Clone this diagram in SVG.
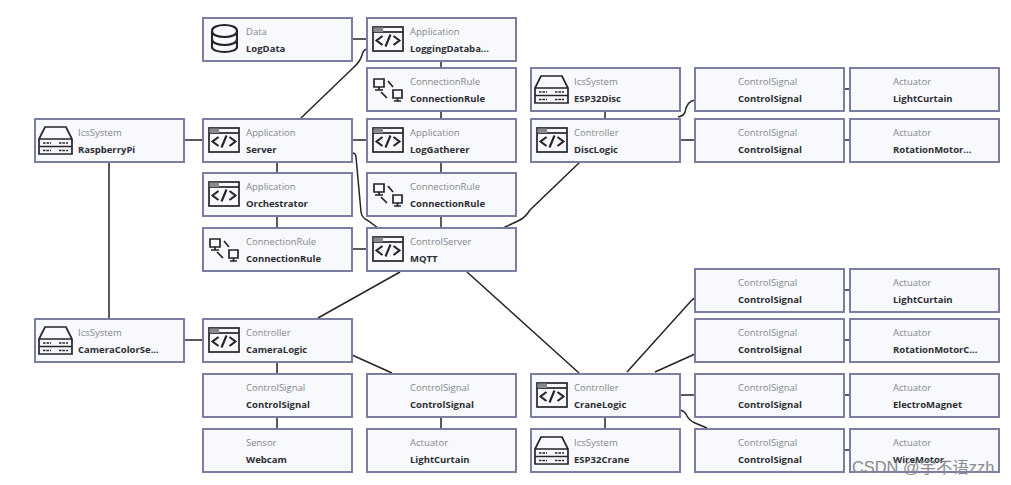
<svg xmlns="http://www.w3.org/2000/svg" width="1011" height="485" viewBox="0 0 1011 485">
<style>
text{font-family:"Open Sans","Noto Sans","Liberation Sans",sans-serif;font-size:9.5px}
.box{fill:#f8f9fc;stroke:#7b7da4;stroke-width:2}
.t{fill:#85868d}
.n{fill:#2c2d33;font-weight:700}
.ln{fill:none;stroke:#25252a;stroke-width:1.5}
.ic{fill:none;stroke:#242428;stroke-width:1.7}
.code{fill:none;stroke:#242428;stroke-width:2.1}
.wm{font-family:"Liberation Sans","Noto Sans CJK SC",sans-serif;font-size:16.4px;fill:#8a8a90}
</style>
<defs>
<g id="app"><rect class="ic" x="6" y="9" width="30" height="24"/><path class="ic" d="M6 14H36"/><path d="M6.500 9.500H16V14H6.500Z" fill="#8a8a8e"/><path class="code" d="M15.500 18L9.500 22.500L15.500 27M26.500 18L32.500 22.500L26.500 27M23.500 16.500L18.500 28.500"/></g>
<g id="srv"><path class="ic" d="M4 20L10 8H31L37 20V35H4ZM4 20H37M4 27.500H37"/><path class="ic" d="M8 24H16M8 31.500H16M24 24H33M24 31.500H33" stroke-dasharray="2.500 1"/></g>
<g id="rule"><path class="ic" d="M7 11H17V19H7ZM12 19V22M8 22H16M26 22H35V30H26ZM30.500 30V33M27 33H34"/><path class="ic" d="M21 13L26 19M14 24L20 30"/></g>
<g id="db"><path class="code" d="M9 13C9 9 15 7 21.500 7S34 9 34 13V29C34 32 28 34 21.500 34S9 32 9 29ZM9 13C9 17 15 19 21.500 19S34 17 34 13M9 21C9 25 15 27 21.500 27S34 25 34 21"/></g>
<rect id="frame" class="box" width="149" height="43"/>
</defs>
<g id="connectors">
<path class="ln" d="M352 39H367M301 118L353 68Q360 62 362 55Q363 50 367 49"/>
<path class="ln" d="M184 140H203M352 140H367M441 61V68M441 111V119M441 162V173M441 216V228"/>
<path class="ln" d="M277 162V173M277 216V228M352 249H367"/>
<path class="ln" d="M352 153Q356 153 356 157L361 212Q362 218 367 220L378 228"/>
<path class="ln" d="M580 162L530 210Q525 218 518 221L503 228"/>
<path class="ln" d="M109 162V319M184 340H203M400 272L318 318M467 272L579 373"/>
<path class="ln" d="M277 362V374M277 417V429M352 355L392 373M441 417V429"/>
<path class="ln" d="M605 111V119M678 117Q684 116 685 112Q687 101 695 100M680 140H695"/>
<path class="ln" d="M844 89H850M844 140H850M844 290H850M844 340H850M844 395H850M844 450H850"/>
<path class="ln" d="M627 372L691 301Q693 299 695 298M655 372L695 354M680 395H695"/>
<path class="ln" d="M680 410Q685 411 687 416Q689 420 695 423L707 428M605 417V429"/>
</g>
<g id="LogData" transform="translate(203 18)"><use href="#frame"/><use href="#db"/><text class="t" x="43" y="17">Data</text><text class="n" x="43" y="34">LogData</text></g>
<g id="LoggingDatabase" transform="translate(367 18)"><use href="#frame"/><use href="#app"/><text class="t" x="43" y="17">Application</text><text class="n" x="43" y="34">LoggingDataba...</text></g>
<g id="Rule1" transform="translate(367 68)"><use href="#frame"/><use href="#rule"/><text class="t" x="43" y="17">ConnectionRule</text><text class="n" x="43" y="34">ConnectionRule</text></g>
<g id="RaspberryPi" transform="translate(35 119)"><use href="#frame"/><use href="#srv"/><text class="t" x="43" y="17">IcsSystem</text><text class="n" x="43" y="34">RaspberryPi</text></g>
<g id="Server" transform="translate(203 119)"><use href="#frame"/><use href="#app"/><text class="t" x="43" y="17">Application</text><text class="n" x="43" y="34">Server</text></g>
<g id="LogGatherer" transform="translate(367 119)"><use href="#frame"/><use href="#app"/><text class="t" x="43" y="17">Application</text><text class="n" x="43" y="34">LogGatherer</text></g>
<g id="Orchestrator" transform="translate(203 173)"><use href="#frame"/><use href="#app"/><text class="t" x="43" y="17">Application</text><text class="n" x="43" y="34">Orchestrator</text></g>
<g id="Rule2" transform="translate(367 173)"><use href="#frame"/><use href="#rule"/><text class="t" x="43" y="17">ConnectionRule</text><text class="n" x="43" y="34">ConnectionRule</text></g>
<g id="Rule3" transform="translate(203 228)"><use href="#frame"/><use href="#rule"/><text class="t" x="43" y="17">ConnectionRule</text><text class="n" x="43" y="34">ConnectionRule</text></g>
<g id="MQTT" transform="translate(367 228)"><use href="#frame"/><use href="#app"/><text class="t" x="43" y="17">ControlServer</text><text class="n" x="43" y="34">MQTT</text></g>
<g id="ESP32Disc" transform="translate(531 68)"><use href="#frame"/><use href="#srv"/><text class="t" x="43" y="17">IcsSystem</text><text class="n" x="43" y="34">ESP32Disc</text></g>
<g id="DiscLogic" transform="translate(531 119)"><use href="#frame"/><use href="#app"/><text class="t" x="43" y="17">Controller</text><text class="n" x="43" y="34">DiscLogic</text></g>
<g id="DiscSignal1" transform="translate(695 68)"><use href="#frame"/><text class="t" x="43" y="17">ControlSignal</text><text class="n" x="43" y="34">ControlSignal</text></g>
<g id="DiscActuator1" transform="translate(850 68)"><use href="#frame"/><text class="t" x="43" y="17">Actuator</text><text class="n" x="43" y="34">LightCurtain</text></g>
<g id="DiscSignal2" transform="translate(695 119)"><use href="#frame"/><text class="t" x="43" y="17">ControlSignal</text><text class="n" x="43" y="34">ControlSignal</text></g>
<g id="DiscActuator2" transform="translate(850 119)"><use href="#frame"/><text class="t" x="43" y="17">Actuator</text><text class="n" x="43" y="34">RotationMotor...</text></g>
<g id="CameraColorSensor" transform="translate(35 319)"><use href="#frame"/><use href="#srv"/><text class="t" x="43" y="17">IcsSystem</text><text class="n" x="43" y="34">CameraColorSe...</text></g>
<g id="CameraLogic" transform="translate(203 319)"><use href="#frame"/><use href="#app"/><text class="t" x="43" y="17">Controller</text><text class="n" x="43" y="34">CameraLogic</text></g>
<g id="CameraSignal1" transform="translate(203 374)"><use href="#frame"/><text class="t" x="43" y="17">ControlSignal</text><text class="n" x="43" y="34">ControlSignal</text></g>
<g id="CameraSignal2" transform="translate(367 374)"><use href="#frame"/><text class="t" x="43" y="17">ControlSignal</text><text class="n" x="43" y="34">ControlSignal</text></g>
<g id="Webcam" transform="translate(203 429)"><use href="#frame"/><text class="t" x="43" y="17">Sensor</text><text class="n" x="43" y="34">Webcam</text></g>
<g id="CameraActuator" transform="translate(367 429)"><use href="#frame"/><text class="t" x="43" y="17">Actuator</text><text class="n" x="43" y="34">LightCurtain</text></g>
<g id="CraneLogic" transform="translate(531 374)"><use href="#frame"/><use href="#app"/><text class="t" x="43" y="17">Controller</text><text class="n" x="43" y="34">CraneLogic</text></g>
<g id="ESP32Crane" transform="translate(531 429)"><use href="#frame"/><use href="#srv"/><text class="t" x="43" y="17">IcsSystem</text><text class="n" x="43" y="34">ESP32Crane</text></g>
<g id="CraneSignal1" transform="translate(695 269)"><use href="#frame"/><text class="t" x="43" y="17">ControlSignal</text><text class="n" x="43" y="34">ControlSignal</text></g>
<g id="CraneActuator1" transform="translate(850 269)"><use href="#frame"/><text class="t" x="43" y="17">Actuator</text><text class="n" x="43" y="34">LightCurtain</text></g>
<g id="CraneSignal2" transform="translate(695 319)"><use href="#frame"/><text class="t" x="43" y="17">ControlSignal</text><text class="n" x="43" y="34">ControlSignal</text></g>
<g id="CraneActuator2" transform="translate(850 319)"><use href="#frame"/><text class="t" x="43" y="17">Actuator</text><text class="n" x="43" y="34">RotationMotorC...</text></g>
<g id="CraneSignal3" transform="translate(695 374)"><use href="#frame"/><text class="t" x="43" y="17">ControlSignal</text><text class="n" x="43" y="34">ControlSignal</text></g>
<g id="CraneActuator3" transform="translate(850 374)"><use href="#frame"/><text class="t" x="43" y="17">Actuator</text><text class="n" x="43" y="34">ElectroMagnet</text></g>
<g id="CraneSignal4" transform="translate(695 429)"><use href="#frame"/><text class="t" x="43" y="17">ControlSignal</text><text class="n" x="43" y="34">ControlSignal</text></g>
<g id="CraneActuator4" transform="translate(850 429)"><use href="#frame"/><text class="t" x="43" y="17">Actuator</text><text class="n" x="43" y="34">WireMotor</text></g>
<text class="wm" x="852" y="473">CSDN @宇不语zzh</text>
</svg>
